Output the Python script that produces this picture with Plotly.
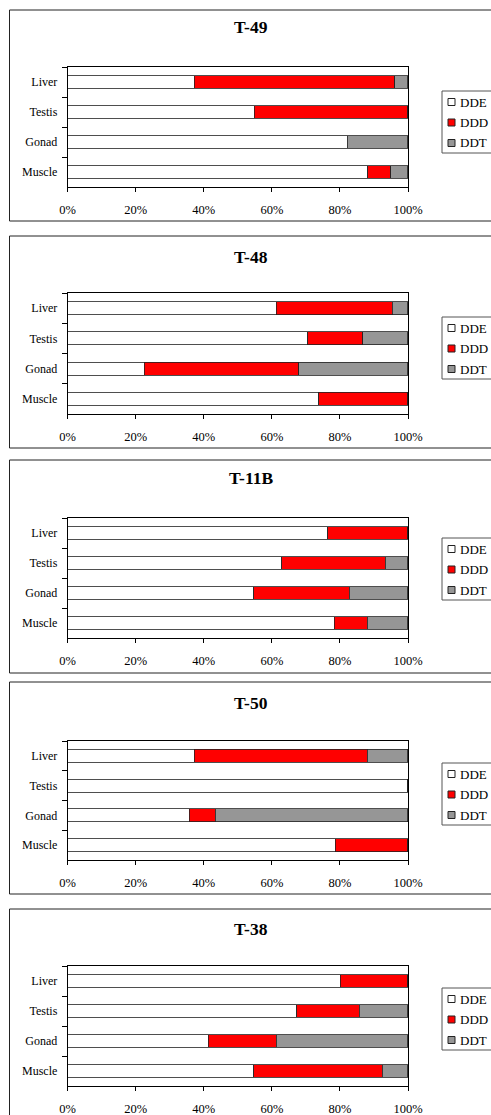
import plotly.graph_objects as go

# ---------------- data ----------------
organs = ["Liver", "Testis", "Gonad", "Muscle"]
series_names = ["DDE", "DDD", "DDT"]
series_colors = ["#FFFFFF", "#FF0000", "#969696"]
panel_titles = ["T-49", "T-48", "T-11B", "T-50", "T-38"]
x_tickvals = [0, 20, 40, 60, 80, 100]
x_ticktext = ["0%", "20%", "40%", "60%", "80%", "100%"]

# percentages per organ (Liver, Testis, Gonad, Muscle)
t49_dde = [37.2, 54.8, 82.2, 88.2]
t49_ddd = [58.9, 45.2, 0.0, 6.8]
t49_ddt = [3.9, 0.0, 17.8, 5.0]

t48_dde = [61.3, 70.6, 22.5, 73.7]
t48_ddd = [34.1, 16.1, 45.4, 26.3]
t48_ddt = [4.6, 13.3, 32.1, 0.0]

t11b_dde = [76.4, 62.9, 54.6, 78.3]
t11b_ddd = [23.6, 30.4, 28.2, 9.7]
t11b_ddt = [0.0, 6.7, 17.2, 12.0]

t50_dde = [37.2, 100.0, 35.7, 78.6]
t50_ddd = [50.9, 0.0, 7.6, 21.4]
t50_ddt = [11.9, 0.0, 56.7, 0.0]

t38_dde = [80.1, 67.3, 41.3, 54.6]
t38_ddd = [19.9, 18.4, 20.0, 37.8]
t38_ddt = [0.0, 14.3, 38.7, 7.6]

panels = [
    [t49_dde, t49_ddd, t49_ddt],
    [t48_dde, t48_ddd, t48_ddt],
    [t11b_dde, t11b_ddd, t11b_ddt],
    [t50_dde, t50_ddd, t50_ddt],
    [t38_dde, t38_ddd, t38_ddt],
]

# ---------------- layout geometry (pixels) ----------------
W, H = 491, 1115
plot_left, plot_right = 67.7, 408.0
plot_tops = [67, 293, 518, 741, 966]
plot_bottoms = [187, 414, 638, 860, 1086]
box_tops = [10, 236, 460, 682, 909]
box_bottoms = [221, 448, 673, 894, 1125]
title_ys = [27, 257, 478, 703, 929]
legend_tops = [91, 317, 538, 763, 988]
legend_h = 62

FONT = "Liberation Serif, Times New Roman, serif"


def px(x):
    return x / W


def py(y):
    return 1 - y / H


fig = go.Figure()
shapes = []
annotations = []

for i, (vals, title) in enumerate(zip(panels, panel_titles)):
    n = i + 1
    xa = "x" if n == 1 else f"x{n}"
    ya = "y" if n == 1 else f"y{n}"
    for name, color, v in zip(series_names, series_colors, vals):
        fig.add_trace(go.Bar(
            y=organs, x=v, name=name, orientation="h",
            marker=dict(color=color, line=dict(color="#222222", width=0.8)),
            xaxis=xa, yaxis=ya, showlegend=False,
        ))
    axis_kw = dict(
        domain=[px(plot_left), px(plot_right)],
        range=[0, 100], tickvals=x_tickvals, ticktext=x_ticktext,
        ticks="outside", ticklen=4, tickcolor="black", tickwidth=1,
        showline=True, linecolor="black", linewidth=1, mirror=True,
        showgrid=False, zeroline=False, fixedrange=True,
        tickfont=dict(family=FONT, size=12.5, color="black"),
        ticklabelstandoff=7,
        anchor=ya,
    )
    yaxis_kw = dict(
        domain=[py(plot_bottoms[i]), py(plot_tops[i])],
        categoryorder="array", categoryarray=organs, autorange="reversed",
        ticks="outside", tickson="boundaries", ticklen=5, tickcolor="black",
        tickwidth=1, showline=True, linecolor="black", linewidth=1, mirror=True,
        showgrid=False, zeroline=False, fixedrange=True,
        tickfont=dict(family=FONT, size=12, color="black"),
        ticklabelstandoff=7,
        anchor=xa,
    )
    fig.update_layout(**{("xaxis" if n == 1 else f"xaxis{n}"): axis_kw,
                         ("yaxis" if n == 1 else f"yaxis{n}"): yaxis_kw})

    # panel border
    shapes.append(dict(type="rect", xref="paper", yref="paper",
                       x0=px(9.5), x1=px(W + 10), y0=py(box_bottoms[i]), y1=py(box_tops[i]),
                       line=dict(color="#222222", width=1), fillcolor="rgba(0,0,0,0)"))
    # title
    annotations.append(dict(text=f"<b>{title}</b>", xref="paper", yref="paper",
                            x=px(251), y=py(title_ys[i]), xanchor="center", yanchor="middle",
                            showarrow=False, font=dict(family=FONT, size=17.5, color="black")))
    # legend box
    lt = legend_tops[i]
    shapes.append(dict(type="rect", xref="paper", yref="paper",
                       x0=px(442), x1=px(W + 10), y0=py(lt + legend_h), y1=py(lt),
                       line=dict(color="#555555", width=1), fillcolor="white"))
    for k, (name, color) in enumerate(zip(series_names, series_colors)):
        cy = lt + 11 + k * 20.5
        shapes.append(dict(type="rect", xref="paper", yref="paper",
                           x0=px(448), x1=px(455), y0=py(cy + 3.5), y1=py(cy - 3.5),
                           line=dict(color="#222222", width=1), fillcolor=color))
        annotations.append(dict(text=name, xref="paper", yref="paper",
                                x=px(458), y=py(cy), xanchor="left", yanchor="middle",
                                showarrow=False,
                                font=dict(family=FONT, size=13, color="black")))

fig.update_layout(
    width=W, height=H, barmode="stack", bargap=0.57,
    margin=dict(l=0, r=0, t=0, b=0, autoexpand=False),
    paper_bgcolor="white", plot_bgcolor="white",
    showlegend=False, shapes=shapes, annotations=annotations,
    font=dict(family=FONT, color="black"),
)

fig.write_html(
    "out.html",
    config={"displayModeBar": False},
    post_script="document.body.style.margin='0px';document.body.style.overflow='hidden';",
)
